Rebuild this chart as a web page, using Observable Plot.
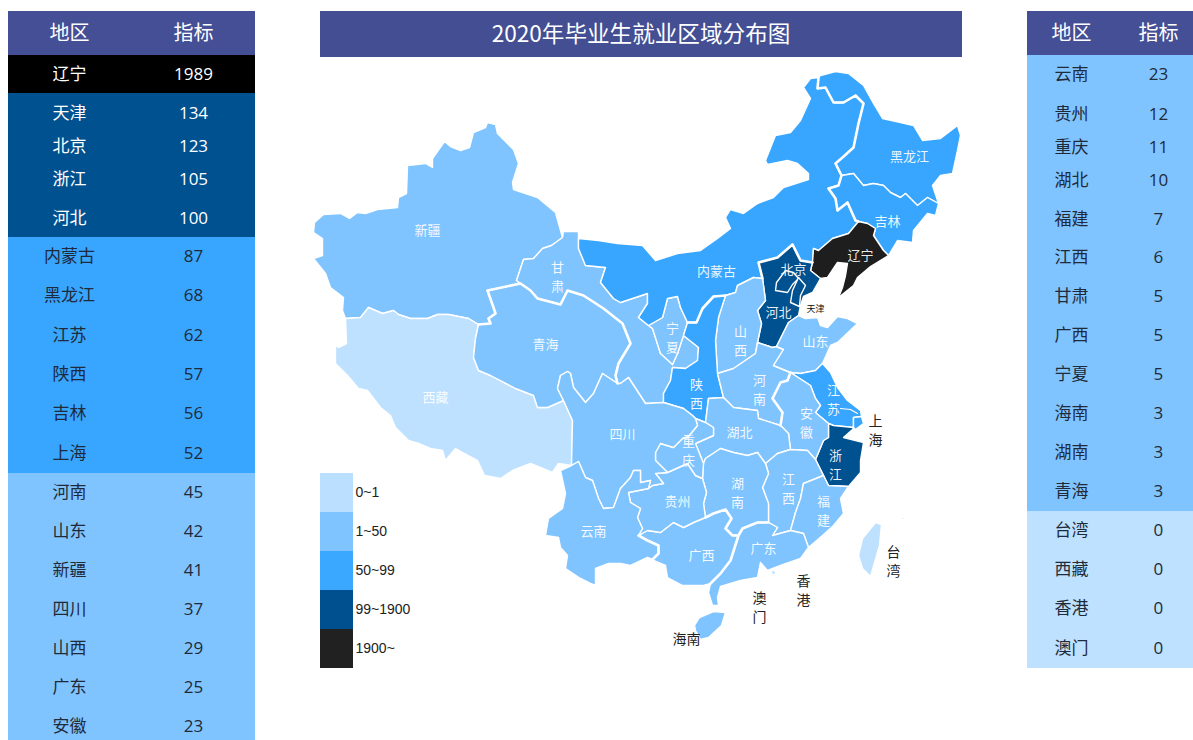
<!DOCTYPE html>
<html><head><meta charset="utf-8">
<script src="https://cdn.jsdelivr.net/npm/d3@7"></script>
<script src="https://cdn.jsdelivr.net/npm/@observablehq/plot@0.6"></script>
<style>
html,body{margin:0;padding:0;background:#fff;width:1193px;height:740px;overflow:hidden}
#page{position:relative;width:1193px;height:740px;overflow:hidden;font-family:"Noto Sans CJK SC","Open Sans",sans-serif}
#page>*{position:absolute}
#title{left:320px;top:11px;width:642px;height:46px;line-height:44px;background:#434e93;color:#fff;text-align:center;font-size:22.6px}
</style></head><body><div id="page"></div>
<script>
// ---- table data ----
const columns = ["地区", "指标"];
const leftRegions = ["辽宁","天津","北京","浙江","河北","内蒙古","黑龙江","江苏","陕西","吉林","上海","河南","山东","新疆","四川","山西","广东","安徽"];
const leftValues  = [1989,134,123,105,100,87,68,62,57,56,52,45,42,41,37,29,25,23];
const rightRegions = ["云南","贵州","重庆","湖北","福建","江西","甘肃","广西","宁夏","海南","湖南","青海","台湾","西藏","香港","澳门"];
const rightValues  = [23,12,11,10,7,6,5,5,5,3,3,3,0,0,0,0];
const leftRowUnits  = [38,40,26,40,38,39,39,40,39,39,40,39,39,39,39,39,39,39];
const rightRowUnits = [39,40,26,40,38,39,39,39,39,39,39,39,39,39,39,40];

// ---- legend / colour bins ----
const binLabels = ["0~1","1~50","50~99","99~1900","1900~"];
const binBreaks = [1,50,99,1900];
const mapColors = ["#bde1ff","#80c4ff","#38a6ff","#00518f","#1e1e1e"];
const tableColors = ["#bde1ff","#80c4ff","#38a6ff","#00518f","#000000"];

// ---- province borders in a local map grid (east, south) ----
const xjN=[345,318,342,310,343,297,330,287,325,273,313,258,322,255,322,238,313,232,314,222,323,214,340,213,349,218,357,212,365,213,377,209,397,207,398,197,406,193,407,165,425,163,432,167,432,158,444,141,450,146,460,150,469,147,473,132,485,127,487,122,495,124,497,133,513,149,518,163,512,182,513,189,537,197,555,212,562,237];
const xjGs=[562,237,551,245,542,248,533,258,523,259,516,280,520,283];
const xjQh=[520,283,487,290,493,307,495,313,488,318,490,323,478,324];
const xjXz=[478,324,468,318,448,314,437,314,427,318,410,318,398,314,393,310,382,313,368,307,360,317,345,318];
const xzS=[345,318,346,343,338,347,335,345,335,363,347,375,358,388,367,390,380,407,390,415,395,427,408,440,418,443,430,448,442,450,445,460,455,448,477,460,484,475,500,478,512,470,530,463,552,472,558,463,571,465];
const xzSc=[571,465,572,420,563,400];
const qhXz=[563,400,547,407,537,407,533,395,515,388,490,375,478,370,473,357,475,338,478,324];
const gsQh=[520,283,530,290,537,298,560,304,567,290,583,295,603,308,622,323,630,343,618,363,615,375,617,383];
const qhSc=[617,383,602,373,593,393,585,402,573,387,570,373,567,371,560,375,557,388,563,400];
const gsTop=[562,237,563,231,578,231,578,238];
const imGs=[578,238,578,248,585,265,605,267,600,282,613,298,620,302,647,293,647,303,638,317,648,325];
const gsNx=[648,325,652,328,660,353,672,364];
const gsNx2=[672,364,677,353,683,335];
const gsSn=[683,335,698,347,697,360,685,368,672,367,670,380,663,393,663,402];
const gsSc=[663,402,645,403,628,377,620,383,617,383];
const imNx=[648,325,662,317,667,298,677,296,680,307,687,322];
const nxSn=[687,322,683,335];
const imN=[578,238,598,240,617,243,642,245,655,260,677,253,700,250,717,238,730,228,725,217,730,209,743,213,757,203,773,197,783,187,808,179,808,173,797,163,787,160,767,164,765,160,775,135,790,132,800,120,810,98,803,87,810,78,818,77];
const imHlj=[818,77,817,88,825,87,833,102,843,102,855,95,863,103,858,123,853,147,842,157,835,163,841,175];
const imJl=[841,175,838,185,828,188,835,198,837,210,847,202,855,220,858,221];
const imLn=[858,221,848,233,832,238,818,250,813,248,812,262];
const imHeb=[812,262,800,260,792,244,777,257,758,262,762,278];
const imSx=[762,278,753,277,737,285,735,292,725,295];
const imSn=[725,295,713,296,702,308,696,322,687,322];
const hljN=[818,77,820,75,835,71,848,73,863,85,873,103,882,118,900,122,913,125,922,140,940,138,957,125,960,135,957,150,952,173,940,175,932,185,938,203];
const hljJl=[938,203,927,197,917,205,905,193,900,197,890,192,883,185,873,183,863,185,853,173,841,175];
const jlCoast=[938,203,935,215,927,213,913,230,912,242,897,240,888,255];
const jlLn=[888,255,883,250,873,235,875,228,867,223,858,221];
const lnCoast=[888,255,870,266,857,277,853,285,838,297,842,287,845,275,847,263,837,262,827,277,820,278];
const lnHeb=[820,278,810,270,812,262];
const hebCoast=[820,278,812,292,803,296,800,305,798,315];
const hebSd=[798,315,788,322,776,346];
const hebHen=[776,346,772,347,757,342];
const hebSx=[757,342,761,323,757,310,765,300,763,285,762,278];
const sxHen=[757,342,755,353,733,368,717,373];
const sxSn=[717,373,715,340,718,317,725,295];
const snHen=[717,373,723,397];
const snHb=[723,397,708,398,705,422];
const snCq=[705,422,695,418];
const snSc=[695,418,692,415,683,408,663,402];
const sdHen=[776,346,783,349,773,365,790,372];
const henAh=[790,372,787,380,780,382,772,398,782,412,780,425];
const henHb=[780,425,758,418,757,410,733,407,723,397];
const sdCoast=[822,363,830,345,837,342,857,323,847,318,837,316,827,327,820,325,817,317,805,318,798,315];
const sdJs=[790,372,800,373,815,370,822,363];
const ahJs=[790,372,810,385,815,398,820,405,815,412,828,423];
const jsZj=[828,423,833,425,853,427];
const jsSh=[853,427,853,417,861,416];
const jsCoast=[861,416,860,410,847,400,837,387,830,372,822,363];
const shCoast=[853,427,855,429,863,423,861,416];
const ahZj=[828,423,828,437,823,440,815,459];
const jxZj=[815,459,823,475];
const zjFj=[823,475,828,485,848,486];
const zjCoast=[848,486,860,472,860,460,863,442,843,437,852,429,853,427];
const ahJx=[815,459,807,450,790,449];
const hbAh=[780,425,788,433,790,449];
const hbJx=[790,449,777,453,765,463];
const hbHn=[765,463,757,452,747,455,733,452,720,448,705,458,703,463];
const cqHb=[703,463,695,443,713,435,713,427,705,422];
const jxFj=[823,475,803,483,800,498,795,512,790,530];
const jxGd=[790,530,772,535,777,527,768,522];
const hnJx=[768,522,768,503,762,487,768,473,765,463];
const hnGd=[768,522,757,522,742,528,738,535];
const gxHn=[738,535,732,535,725,528,731,518,725,509,713,513,705,517];
const gzHn=[705,517,703,503,706,492,702,478];
const cqHn=[702,478,703,463];
const fjCoast=[848,486,840,498,843,513,833,525,822,535,808,547];
const gdFj=[808,547,803,533,790,530];
const gdCoast=[808,547,800,558,780,565,767,570,760,562,757,577,740,580,720,586,717,597,718,605,712,605,708,592,710,583];
const gxGd=[710,583,720,573,730,560,738,535];
const gxCoast=[710,583,703,585,695,585,682,585,667,577,665,565,653,560,652,559];
const ynGx=[652,559,658,553,658,545,647,540,638,535];
const gxGz=[638,535,647,530,660,532,673,522,683,527,693,522,705,517];
const ynGz=[648,488,628,492,630,502,640,508,637,517,642,528,638,535];
const scGz=[648,488,652,485,663,483,655,473,667,472];
const gzCq=[667,472,687,463,695,475,702,478];
const scCq=[667,472,655,460,655,452,660,443,673,447,682,438,687,437,697,425,695,418];
const scYn=[571,465,578,461,585,477,592,480,598,498,603,508,613,507,620,488,630,477,633,470,640,470,640,482,650,480,648,488];
const ynOuter=[652,559,647,557,630,565,620,563,608,563,595,568,595,585,590,583,580,578,565,568,567,555,560,547,558,537,545,535,548,518,562,508,565,493,560,470,571,465];
const hainanRing=[699,617,713,611,725,612,721,625,708,637,700,639,695,630,694,625,699,617];
const taiwanRing=[875,522,881,524,879,545,870,576,862,568,858,555,862,538,875,522];
const taiwanIslet=[901,517,904,517,904,519,901,519,901,517];
const hongkongRing=[771,570,775,570,775,574,771,574,771,570];
const macaoRing=[768,573,770,573,770,575,768,575,768,573];
const beijingRing=[785,270,776,282,775,290,787,292,792,284,798,278,793,272,785,270];
const tianjinRing=[798,277,792,290,790,302,799,306,800,295,805,285,798,277];
const yangtze=[840,408,850,409,857,413];

// ---- map labels (name broken the way the picture breaks it) ----
const labelTexts=["新疆","西藏","青海","甘\n肃","内蒙古","黑龙江","吉林","辽宁","北京","河北","宁\n夏","山\n西","陕\n西","山东","河\n南","江\n苏","安\n徽","浙\n江","湖北","四川","重\n庆","贵州","湖\n南","江\n西","福\n建","云南","广西","广东"];
const labelEast=[427,435,545,557,716,909,887,860,793,778,672,740,696,815,759,833,806,835,739,622,688,677,737,788,823,593,701,763];
const labelSouth=[229,396,343,275,270,155,220,254,268,311,336,339,392,340,388,398,421,463,431,433,449,500,491,487,509,530,554,547];
const outerTexts=["上\n海","海南","澳\n门","香\n港","台\n湾"];
const outerEast=[875,686,759,803,893];
const outerSouth=[429,637,606,589,560];

// ---- assemble ----
const pairs=a=>d3.range(0,a.length,2).map(i=>[a[i],a[i+1]]);
const rev=a=>pairs(a).reverse().flat();
const ring=(...arcs)=>{const p=pairs(arcs.flat());p.push(p[0]);return p;};
const shapes=[
 ["新疆",[ring(xjN,xjGs,xjQh,xjXz)]],
 ["西藏",[ring(xzS,xzSc,qhXz,xjXz)]],
 ["青海",[ring(rev(xjQh),gsQh,qhSc,qhXz)]],
 ["甘肃",[ring(rev(xjGs),gsTop,imGs,gsNx,gsNx2,gsSn,gsSc,rev(gsQh))]],
 ["宁夏",[ring(imNx,nxSn,rev(gsNx2),rev(gsNx))]],
 ["内蒙古",[ring(imN,imHlj,imJl,imLn,imHeb,imSx,imSn,rev(imNx),rev(imGs))]],
 ["黑龙江",[ring(hljN,hljJl,rev(imHlj))]],
 ["吉林",[ring(rev(hljJl),jlCoast,jlLn,rev(imJl))]],
 ["辽宁",[ring(rev(jlLn),lnCoast,lnHeb,rev(imLn))]],
 ["河北",[ring(rev(imHeb),rev(lnHeb),hebCoast,hebSd,hebHen,hebSx)]],
 ["山西",[ring(rev(hebSx),sxHen,sxSn,rev(imSx))]],
 ["陕西",[ring(rev(sxSn),snHen,snHb,snCq,snSc,rev(gsSn),rev(nxSn),rev(imSn))]],
 ["河南",[ring(rev(sxHen),rev(hebHen),sdHen,henAh,henHb,rev(snHen))]],
 ["山东",[ring(sdCoast,hebSd,sdHen,sdJs)]],
 ["江苏",[ring(rev(sdJs),ahJs,jsZj,jsSh,jsCoast)]],
 ["上海",[ring(rev(jsSh),shCoast)]],
 ["浙江",[ring(rev(jsZj),ahZj,jxZj,zjFj,zjCoast)]],
 ["安徽",[ring(rev(henAh),ahJs,ahZj,ahJx,rev(hbAh))]],
 ["湖北",[ring(rev(henHb),hbAh,hbJx,hbHn,cqHb,rev(snHb))]],
 ["江西",[ring(rev(hbJx),rev(ahJx),jxZj,jxFj,jxGd,hnJx)]],
 ["湖南",[ring(rev(hbHn),rev(hnJx),hnGd,gxHn,gzHn,cqHn)]],
 ["福建",[ring(rev(jxFj),zjFj,fjCoast,gdFj)]],
 ["广东",[ring(rev(jxGd),rev(gdFj),gdCoast,gxGd,rev(hnGd))]],
 ["广西",[ring(rev(gxGd),gxCoast,ynGx,gxGz,rev(gxHn))]],
 ["贵州",[ring(rev(gxGz),rev(ynGz),scGz,gzCq,rev(gzHn))]],
 ["重庆",[ring(rev(gzCq),scCq,rev(snCq),rev(cqHb),rev(cqHn))]],
 ["四川",[ring(rev(qhSc),rev(gsSc),rev(snSc),rev(scCq),rev(scGz),rev(scYn),xzSc)]],
 ["云南",[ring(scYn,ynGz,rev(ynGx),ynOuter)]],
 ["海南",[pairs(hainanRing)]],
 ["台湾",[pairs(taiwanRing),pairs(taiwanIslet)]],
 ["香港",[pairs(hongkongRing)]],
 ["澳门",[pairs(macaoRing)]],
 ["北京",[pairs(beijingRing)]],
 ["天津",[pairs(tianjinRing)]]
];
const valueOf=new Map([...d3.zip(leftRegions,leftValues),...d3.zip(rightRegions,rightValues)]);
const provinces={type:"FeatureCollection",features:shapes.map(([name,rings])=>({
  type:"Feature",properties:{name,value:valueOf.get(name)},
  geometry:{type:"MultiPolygon",coordinates:rings.map(r=>[r])}}))};
const heavyBorders={type:"MultiLineString",coordinates:[imHlj,imJl,gsQh,imHeb,hnGd,gxGd,gxHn,ynGx,imSn,henAh,xjQh].map(pairs)};
const riverLine={type:"LineString",coordinates:pairs(yangtze)};

const page=document.getElementById("page");
const place=(node,left,top)=>{node.style.left=left+"px";node.style.top=top+"px";node.style.background="transparent";page.append(node);return node;};

// ---- map ----
const gridPlane=d3.geoTransform({point(x,y){this.stream.point(x,y);}});
const labelFont='"Noto Sans CJK SC",sans-serif';
place(Plot.plot({
  width:1193,height:740,margin:0,
  projection:gridPlane,
  color:{type:"threshold",domain:binBreaks,range:mapColors},
  marks:[
    Plot.geo(provinces,{fill:d=>d.properties.value,stroke:"#fff",strokeWidth:1.4,strokeLinejoin:"round"}),
    Plot.geo([heavyBorders],{stroke:"#fff",strokeWidth:2.6,fill:"none",strokeLinejoin:"round"}),
    Plot.geo([riverLine],{stroke:"#fff",strokeWidth:1.2,fill:"none"}),
    Plot.text(d3.zip(labelTexts,labelEast,labelSouth),{text:"0",x:"1",y:"2",fill:"#fff",fillOpacity:.92,fontSize:13,fontFamily:labelFont,lineHeight:1.42}),
    Plot.text(["天津"],{text:d=>d,x:[815],y:[309],fill:"#111",fontSize:9,fontFamily:labelFont}),
    Plot.text(d3.zip(outerTexts,outerEast,outerSouth),{text:"0",x:"1",y:"2",fill:"#222",fontSize:14,fontFamily:labelFont,lineHeight:1.35})
  ]
}),0,0);

// ---- legend ----
place(Plot.plot({
  width:110,height:196,margin:0,
  x:{domain:[0,1],range:[0,33],axis:null},
  y:{domain:binLabels,padding:0,axis:null},
  color:{domain:binLabels,range:["#bbe0ff","#80c4ff","#3aa8ff","#004f8e","#212121"]},
  marks:[
    Plot.barX(binLabels,{x1:0,x2:1,y:d=>d,fill:d=>d,shapeRendering:"crispEdges"}),
    Plot.text(binLabels,{x:1,y:d=>d,text:d=>d,textAnchor:"start",dx:2,fill:"#222",fontSize:14,fontFamily:'"Liberation Sans",Arial,sans-serif'})
  ]
}),320,472);

// ---- tables ----
function table(regions,values,units,width,colAt,height,inkOf){
  let sum=0;
  const rows=regions.map((region,i)=>{const y1=sum;sum+=units[i];return {region,value:values[i],label:String(values[i]),y1,y2:sum,mid:(y1+sum)/2};});
  const latin='"Open Sans","Noto Sans CJK SC",sans-serif';
  const cjk='"Noto Sans CJK SC",sans-serif';
  return Plot.plot({
    width,height,margin:0,
    x:{domain:[0,1],axis:null},
    y:{domain:[-44,height-44],range:[0,height],axis:null},
    color:{type:"threshold",domain:binBreaks,range:tableColors},
    marks:[
      Plot.rect(rows,{x1:0,x2:1,y1:"y1",y2:"y2",fill:"value",shapeRendering:"crispEdges"}),
      Plot.rect([0],{x1:0,x2:1,y1:-44,y2:0,fill:"#444f96",shapeRendering:"crispEdges"}),
      Plot.text(columns,{x:(d,i)=>colAt[i],y:()=>-22,text:d=>d,fill:"#fff",fontSize:20,fontFamily:cjk}),
      Plot.text(rows,{x:()=>colAt[0],y:"mid",text:"region",fill:"#ffffff",stroke:null,fontSize:17,fontFamily:cjk,filter:d=>d.value>=99}),
      Plot.text(rows,{x:()=>colAt[1],y:"mid",text:"label",fill:"#ffffff",fontSize:17,fontFamily:latin,filter:d=>d.value>=99}),
      Plot.text(rows,{x:()=>colAt[0],y:"mid",text:"region",fill:"#1f2a3a",fontSize:17,fontFamily:cjk,filter:d=>d.value<99}),
      Plot.text(rows,{x:()=>colAt[1],y:"mid",text:"label",fill:"#1f2a3a",fontSize:17,fontFamily:latin,filter:d=>d.value<99})
    ]
  });
}
place(table(leftRegions,leftValues,leftRowUnits,247,[.247,.749],729),8,11);
place(table(rightRegions,rightValues,rightRowUnits,166,[.265,.789],657),1027,11);

// ---- title ----
const title=document.createElement("div");
title.id="title";title.textContent="2020年毕业生就业区域分布图";
page.append(title);
</script></body></html>
